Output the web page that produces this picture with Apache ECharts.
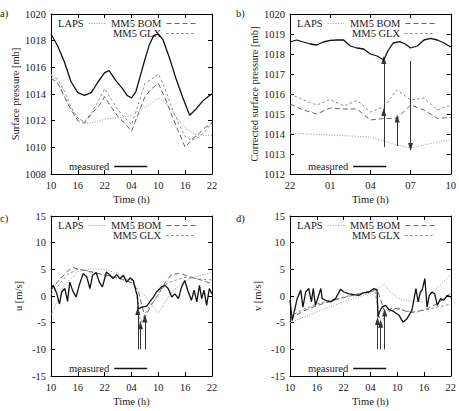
<!DOCTYPE html>
<html><head><meta charset="utf-8">
<script src="https://cdn.jsdelivr.net/npm/echarts@6/dist/echarts.min.js"></script>
<style>html,body{margin:0;padding:0;background:#fff}#c{width:459px;height:411px}</style>
</head><body><div id="c"></div>
<script>
// ---------------- data ----------------
const dayLabels = ['10','16','22','04','10','16','22'];
const nightLabels = ['22','01','04','07','10'];

// panel a : surface pressure
const aMeasT = [0,1.5,3,4.5,6,7.5,9,10.5,12,13,14.5,16,17,18,19,20,21,22,23,24,25,26.5,28,29.5,31,32.5,34,35.5,36];
const aMeas  = [1018.5,1017.6,1016.4,1014.9,1014.1,1013.9,1014.1,1014.9,1015.6,1015.75,1015.0,1014.4,1013.9,1013.7,1014.2,1015.4,1016.6,1017.7,1018.4,1018.5,1018.1,1016.7,1015.1,1013.7,1012.4,1012.9,1013.5,1013.9,1014.0];
const aLapsT = [0,2,4,6,8,10,12,14,16,18,20,22,24,26,28,30,32,34,36];
const aLaps  = [1015.5,1014.6,1013.1,1012.2,1011.8,1011.9,1012.1,1012.2,1012.25,1012.4,1012.8,1013.2,1013.7,1013.2,1012.3,1011.4,1011.0,1010.9,1010.9];
const aModelT = [0,1.5,3,4.5,6,7.5,9,10.5,12,13.5,15,16.5,18,19.5,21,22.5,24,25.5,27,28.5,30,31.5,33,34.5,36];
const aBom = [1015.2,1014.8,1013.8,1012.8,1012.0,1011.8,1012.5,1013.0,1013.8,1013.0,1012.3,1011.8,1011.2,1012.5,1013.8,1014.4,1014.8,1013.7,1012.4,1011.2,1010.0,1010.6,1011.0,1011.5,1011.8];
const aGlx = [1015.4,1015.1,1014.2,1013.0,1012.2,1011.9,1012.6,1013.4,1014.4,1013.6,1012.8,1012.2,1011.7,1013.2,1014.8,1015.1,1015.5,1014.4,1013.0,1011.8,1010.8,1010.5,1010.8,1011.2,1011.9];

// panel b : corrected surface pressure
const bMeasT = [0,0.5,1,1.5,2,2.5,3,3.5,4,4.5,5,5.5,6,6.5,7,7.3,7.7,8.2,8.6,9,9.5,10,10.5,11,11.5,12];
const bMeas  = [1018.6,1018.7,1018.6,1018.5,1018.45,1018.6,1018.68,1018.7,1018.7,1018.4,1018.3,1018.25,1018.0,1017.9,1017.7,1018.15,1018.55,1018.62,1018.5,1018.3,1018.4,1018.7,1018.78,1018.7,1018.55,1018.35];
const bLapsT = [0,3,6,7,8,9,10,11,12];
const bLaps  = [1014.05,1013.95,1013.85,1013.65,1013.45,1013.3,1013.45,1013.6,1013.7];
const bModelT = [0,1,2,3,4,5,6,7,8,9,10,11,12];
const bGlx = [1016.0,1015.7,1015.45,1015.73,1015.4,1015.68,1015.1,1015.35,1016.2,1015.7,1015.8,1015.2,1015.45];
const bBom = [1015.5,1015.2,1015.0,1015.3,1015.25,1015.25,1014.7,1014.78,1014.78,1015.45,1015.2,1014.78,1014.83];
const bArrows = [[7,1013.35,1017.7],[7,1013.35,1015.1],[8,1013.4,1014.78],[9,1017.65,1013.35]];

// panel c : u wind
const cMeasT = [0,0.5,1.3,1.9,2.4,3.1,3.7,4.2,4.8,5.6,6.3,7.2,8,8.7,9.3,10.1,10.8,11.5,12.4,13.2,13.9,14.7,15.4,16.2,16.9,17.7,18.4,19,19.3,19.5,20.3,21.4,22.1,22.9,23.6,24.7,25.5,26.2,27,27.7,28.5,29.2,29.9,30.7,31.4,32,32.6,33.2,33.7,34.2,34.8,35.4,36];
const cMeas  = [1.4,2.0,0.4,-1.5,0.75,1.4,-1.0,2.6,1.1,-0.2,2.0,4.2,3.6,1.4,3.9,4.4,2.6,1.7,4.5,3.9,3.25,4.0,3.25,3.9,2.6,3.4,2.9,0.9,0.1,-2.4,-2.1,-1.9,-1.1,-0.2,0.75,1.7,2.0,1.4,-0.2,0.4,-0.5,1.7,2.9,0.75,-0.8,1.1,-1.1,2.0,-0.5,1.1,-1.75,1.4,0.4];
const cLapsT = [0,3,6,9,12,15,18,21,24,27,30,33,36];
const cLaps  = [-3.6,2.0,4.6,5.1,5.0,4.2,2.5,0.0,-3.2,0.8,2.8,3.8,4.4];
const cBomT = [0,2,4,5,7,10,13,16,18,19.5,21,22.5,24,25.5,27,29,31,33.5,36];
const cBom  = [1.0,3.2,4.9,5.3,4.9,4.3,3.8,3.1,2.5,1.0,-4.0,-1.6,0.3,2.5,4.1,4.2,3.6,3.0,2.3];
const cGlxT = [0,2,4,6,9,12,15,18,19,20,21.5,23,24.5,26,28,30,33,36];
const cGlx  = [0.3,2.4,4.2,5.0,4.6,3.8,3.4,3.0,1.5,-5.3,-2.5,-1.0,1.0,2.4,3.0,3.5,3.2,3.0];
const cArrows = [[19.4,-10,-2.8],[20.0,-10,-5.5],[21.0,-10,-4.2]];

// panel d : v wind
const dMeasT = [0,0.5,1.1,1.6,2.4,2.9,3.5,4.2,4.8,5.2,5.7,6.3,6.9,7.2,8,9.1,10.2,11.3,12.1,13.2,14.3,15.4,16.5,17.7,18.8,19.5,19.7,20,20.6,21.4,22.1,23.2,24.4,25.3,26.2,27.3,28.2,28.7,29.2,29.6,30.2,30.7,31.2,31.8,32.4,33,33.7,34.4,35.2,36];
const dMeas  = [-0.8,-4.6,-2.4,-0.5,1.1,-2.1,0.75,1.4,-1.1,1.4,-1.75,-0.2,1.4,-0.5,-0.8,-1.1,-0.5,1.25,0.75,0.4,0.25,0.1,0.6,0.75,1.4,1.1,-4.0,-3.0,-2.1,-1.75,-2.5,-2.9,-3.6,-4.9,-4.25,-2.7,1.4,-1.1,0.75,1.1,3.25,-2.1,0.1,0.75,0.4,-1.75,-0.5,-0.8,0.1,-0.2];
const dLapsT = [0,3,6,9,12,15,18,19.5,21,22.5,24,26,28,30,32,34,36];
const dLaps  = [-5.0,-4.0,-3.0,-2.0,-1.1,-0.3,0.6,1.2,2.2,0.8,-0.3,-0.8,-1.0,-1.1,0.8,2.4,4.0];
const dBomT = [0,3,6,9,12,15,18,19.5,21.2,23,25,27,29,31,33,36];
const dBom  = [-4.3,-2.8,-1.8,-1.0,-0.3,0.3,0.9,1.3,-3.0,-2.2,-2.6,-3.1,-2.8,-2.3,-1.4,0.5];
const dGlxT = [0,3,6,9,12,15,18,19,20.3,22,24,26,28,30,33,36];
const dGlx  = [-3.8,-2.5,-1.5,-0.8,-0.2,0.4,0.8,1.0,-5.0,-3.0,-2.2,-2.8,-3.1,-2.7,-2.1,-1.5];
const dArrows = [[19.6,-10,-4.7],[20.3,-10,-5.2],[21.2,-10,-3.1]];

// ---------------- layout / style ----------------
const FONT = 'Liberation Serif';
const FS = 10.5;
const TXT = '#222';
const pairs = (ts, vs) => ts.map((t, i) => [t, vs[i]]);

const panels = [
  {grid:{left:51,top:14,width:161,height:160}, xMax:36, xInt:6, xLabels:dayLabels, yMin:1008, yMax:1020, yInt:2,
   yName:'Surface pressure [mb]', meas:pairs(aMeasT,aMeas), laps:pairs(aLapsT,aLaps), bom:pairs(aModelT,aBom), glx:pairs(aModelT,aGlx), arrows:[], letter:'a)', lx:0, ly:8, dx:0, dy:0},
  {grid:{left:290,top:14,width:161,height:160}, xMax:12, xInt:3, xLabels:nightLabels, yMin:1012, yMax:1020, yInt:1,
   yName:'Corrected surface pressure [mb]', meas:pairs(bMeasT,bMeas), laps:pairs(bLapsT,bLaps), bom:pairs(bModelT,bBom), glx:pairs(bModelT,bGlx), arrows:bArrows, letter:'b)', lx:236, ly:8, dx:239, dy:0},
  {grid:{left:51,top:216,width:161,height:160}, xMax:36, xInt:6, xLabels:dayLabels, yMin:-15, yMax:15, yInt:5,
   yName:'u [m/s]', meas:pairs(cMeasT,cMeas), laps:pairs(cLapsT,cLaps), bom:pairs(cBomT,cBom), glx:pairs(cGlxT,cGlx), arrows:cArrows, letter:'c)', lx:0, ly:213, dx:0, dy:202},
  {grid:{left:290,top:216,width:161,height:160}, xMax:36, xInt:6, xLabels:dayLabels, yMin:-15, yMax:15, yInt:5,
   yName:'v [m/s]', meas:pairs(dMeasT,dMeas), laps:pairs(dLapsT,dLaps), bom:pairs(dBomT,dBom), glx:pairs(dGlxT,dGlx), arrows:dArrows, letter:'d)', lx:236, ly:213, dx:239, dy:202}
];

const lineAx = {show:true, onZero:false, lineStyle:{color:'#000', width:1}};
const tickAx = {show:true, inside:true, length:4, lineStyle:{color:'#000', width:1}};
const txt = {fontFamily:FONT, fontSize:FS, color:TXT};

const grid = [], xAxis = [], yAxis = [], series = [], legend = [], graphic = [];

panels.forEach((p, i) => {
  grid.push(Object.assign({containLabel:false}, p.grid));
  xAxis.push({type:'value', gridIndex:i, min:0, max:p.xMax, interval:p.xInt, position:'bottom',
    axisLine:lineAx, axisTick:tickAx, splitLine:{show:false},
    axisLabel:Object.assign({margin:6, formatter:v => p.xLabels[Math.round(v / p.xInt)]}, txt),
    name:'Time (h)', nameLocation:'middle', nameGap:20, nameTextStyle:txt});
  xAxis.push({type:'value', gridIndex:i, min:0, max:p.xMax, interval:p.xInt, position:'top',
    axisLine:lineAx, axisTick:tickAx, splitLine:{show:false}, axisLabel:{show:false}});
  yAxis.push({type:'value', gridIndex:i, min:p.yMin, max:p.yMax, interval:p.yInt, position:'left',
    axisLine:lineAx, axisTick:tickAx, splitLine:{show:false},
    axisLabel:Object.assign({margin:5, formatter:v => String(v)}, txt),
    name:p.yName, nameLocation:'middle', nameRotate:90, nameGap:27, nameTextStyle:txt});
  yAxis.push({type:'value', gridIndex:i, min:p.yMin, max:p.yMax, interval:p.yInt, position:'right',
    axisLine:lineAx, axisTick:tickAx, splitLine:{show:false}, axisLabel:{show:false}});

  const base = {type:'line', xAxisIndex:2*i, yAxisIndex:2*i, symbol:'none', showSymbol:false, animation:false, silent:true};
  series.push(Object.assign({}, base, {name:'LAPS', data:p.laps, z:2,
    lineStyle:{color:'#9a9a9a', width:1, type:[1,1.6]}, itemStyle:{color:'#9a9a9a'}}));
  series.push(Object.assign({}, base, {name:'MM5 BOM', data:p.bom, z:3,
    lineStyle:{color:'#666', width:1, type:[5,3]}, itemStyle:{color:'#666'}}));
  series.push(Object.assign({}, base, {name:'MM5 GLX', data:p.glx, z:3,
    lineStyle:{color:'#8a8a8a', width:1, type:[2.5,2.5]}, itemStyle:{color:'#8a8a8a'}}));
  series.push(Object.assign({}, base, {name:'measured', data:p.meas, z:5,
    lineStyle:{color:'#111', width:1.3}, itemStyle:{color:'#111'},
    markLine:{silent:true, animation:false, symbol:['none','triangle'], symbolSize:[5,8],
      label:{show:false}, lineStyle:{color:'#333', width:1, type:'solid'}, emphasis:{disabled:true},
      data:p.arrows.map(a => [{coord:[a[0], a[1]]}, {coord:[a[0], a[2]]}])}}));

  const mk = (name, left, top, w, lw) => ({data:[name], left:left + p.dx, top:top + p.dy, orient:'horizontal',
    align:'right', itemWidth:w, itemHeight:10, itemGap:0, padding:0, selectedMode:false,
    itemStyle:{opacity:0, borderWidth:0}, lineStyle:{width:lw},
    textStyle:txt});
  legend.push(mk('LAPS', 58, 18, 18, 1));
  legend.push(mk('MM5 BOM', 111, 18, 30, 1));
  legend.push(mk('MM5 GLX', 113, 28, 30, 1));
  legend.push(mk('measured', 69, 161, 33, 1.3));

  graphic.push({type:'text', left:p.lx, top:p.ly, style:{text:p.letter, font:FS + 'px "' + FONT + '"', fill:TXT}});
});

const chart = echarts.init(document.getElementById('c'), null, {renderer:'svg'});
chart.setOption({backgroundColor:'#fff', animation:false, grid, xAxis, yAxis, series, legend, graphic});
</script></body></html>
